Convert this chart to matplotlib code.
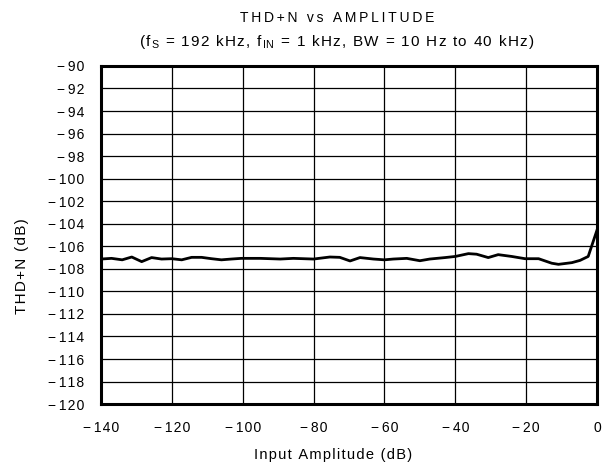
import matplotlib
matplotlib.use('Agg')
import matplotlib.pyplot as plt
from matplotlib.ticker import FuncFormatter

plt.rcParams['font.family'] = ['Liberation Sans', 'DejaVu Sans']
plt.rcParams['mathtext.fontset'] = 'custom'
plt.rcParams['mathtext.rm'] = 'Liberation Sans'
plt.rcParams['mathtext.default'] = 'regular'

# data
amplitude_db = [-140, -137, -134, -131.3, -128.5, -125.7, -122.9, -120, -117.2, -114.4,
                -111.6, -108.8, -106, -103.2, -100.4, -95, -89.4, -85.7, -80, -75.4,
                -72.6, -69.7, -66.9, -63.1, -60, -57.5, -53.7, -50, -47.2, -42.9,
                -40, -36.3, -34, -30.7, -27.9, -24.1, -20.3, -16.5, -12.8, -10.9,
                -7.1, -4.8, -2.5, 0]
thdn_db = [-107.13, -107.07, -107.2, -106.95, -107.36, -107.0, -107.13, -107.1, -107.2, -106.98,
           -106.98, -107.1, -107.2, -107.13, -107.07, -107.07, -107.13, -107.07, -107.13, -106.95,
           -106.98, -107.3, -107.0, -107.13, -107.2, -107.13, -107.07, -107.28, -107.13, -107.0,
           -106.9, -106.65, -106.7, -107.0, -106.74, -106.9, -107.1, -107.1, -107.5, -107.6,
           -107.45, -107.25, -106.9, -104.55]

x_ticks = list(range(-140, 1, 20))
y_ticks = list(range(-120, -89, 2))

TITLE = 'THD+N vs AMPLITUDE'
SUBTITLE = '(f$_S$ = 192 kHz, f$_{IN}$ = 1 kHz, BW = 10 Hz to 40 kHz)'
XLABEL = 'Input Amplitude (dB)'
YLABEL = 'THD+N (dB)'


def track(s, sp='\u2009'):
    # fake letter spacing, leaves $...$ parts alone
    out = []
    parts = s.split('$')
    for i, p in enumerate(parts):
        if i % 2:
            out.append('$' + p + '$')
        else:
            out.append(sp.join(p))
    return sp.join(x for x in out if x)


fig = plt.figure(figsize=(6.08, 4.71), dpi=100)
ax = fig.add_axes([0.166, 0.142, 0.816, 0.718])

ax.plot(amplitude_db, thdn_db, color='black', lw=2.0, solid_joinstyle='round')

ax.set_xlim(-140, 0)
ax.set_ylim(-120, -90)
ax.set_xticks(x_ticks)
ax.set_yticks(y_ticks)


def fmt(v, pos):
    v = int(round(v))
    digits = '\u200a'.join(str(abs(v)))
    return '\u2212\u2009' + digits if v < 0 else digits


ax.xaxis.set_major_formatter(FuncFormatter(fmt))
ax.yaxis.set_major_formatter(FuncFormatter(fmt))
ax.tick_params(length=0, labelsize=10, pad=12)
ax.grid(True, color='black', lw=0.9)
for s in ax.spines.values():
    s.set_linewidth(2.2)
    s.set_zorder(5)

ax.set_xlabel(track(XLABEL, '\u200a'), fontsize=10.5)
ax.set_ylabel(track(YLABEL, '\u200a'), fontsize=11)
ax.xaxis.set_label_coords(0.468, -0.130)
ax.yaxis.set_label_coords(-0.145, 0.408)

fig.text(0.554, 0.962, track(TITLE), ha='center', va='center', fontsize=10)
fig.text(0.554, 0.911, track(SUBTITLE, '\u200a'), ha='center', va='center', fontsize=11)

fig.savefig('out.png', dpi=100)
